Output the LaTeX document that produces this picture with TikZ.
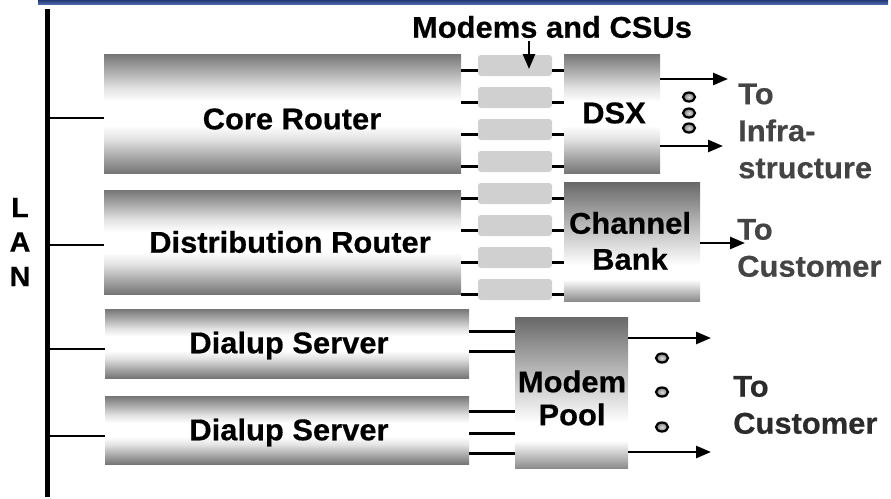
\documentclass[tikz,border=0pt]{standalone}
\usepackage{fontspec}
\setmainfont{Liberation Sans}[FakeStretch=1.03, BoldFeatures={FakeBold=0.5}]
\usetikzlibrary{arrows.meta,calc,shapes.geometric}

\definecolor{bartop}{RGB}{34,56,118}
\definecolor{barbot}{RGB}{78,108,172}
\definecolor{modemgray}{RGB}{208,208,208}
\definecolor{shA}{RGB}{118,118,118}
\definecolor{shB}{RGB}{170,170,170}
\definecolor{shC}{RGB}{225,225,225}
\definecolor{plA}{RGB}{104,104,104}
\definecolor{plB}{RGB}{185,185,185}
\definecolor{plC}{RGB}{140,140,140}
\definecolor{dotin}{RGB}{220,220,220}
\definecolor{dotout}{RGB}{120,120,120}
\definecolor{taggray}{RGB}{68,68,68}
\definecolor{tagdark}{RGB}{43,43,43}

% dark edges, white band in the middle
\pgfdeclareverticalshading{unitshade}{100bp}{%
  color(0bp)=(shA); color(25bp)=(shA); color(32bp)=(shB); color(39bp)=(shC);
  color(45bp)=(white); color(55bp)=(white); color(61bp)=(shC);
  color(68bp)=(shB); color(75bp)=(shA); color(100bp)=(shA)}
% white band sits low
\pgfdeclareverticalshading{lowshade}{100bp}{%
  color(0bp)=(plC); color(25bp)=(plC); color(34bp)=(white); color(40bp)=(white);
  color(57bp)=(plB); color(75bp)=(plA); color(100bp)=(plA)}

\tikzset{
  unit/.style={shade, shading=unitshade, inner sep=0pt, outer sep=0pt, anchor=north west},
  lowunit/.style={shade, shading=lowshade, inner sep=0pt, outer sep=0pt, anchor=north west},
  modem/.style={fill=modemgray, rounded corners=3pt, inner sep=0pt, outer sep=0pt,
    minimum width=74pt, minimum height=21pt, anchor=north west},
  lbl/.style={font=\bfseries\fontsize{30}{36}\selectfont, align=center, inner sep=0pt},
  tag/.style={font=\bfseries\fontsize{30}{37}\selectfont, align=left, inner sep=0pt, anchor=west},
  wire/.style={line width=3pt},
  tap/.style={line width=2.6pt},
  feed/.style={line width=2.6pt, -{Triangle[length=15pt,width=12pt]}},
  dotmark/.style={ellipse, draw=black, line width=2.2pt, inner color=dotin, outer color=dotout,
    inner sep=0pt, minimum width=12pt, minimum height=9pt},
}

\begin{document}
\begin{tikzpicture}[x=1pt,y=-1pt]
\useasboundingbox (0,0) rectangle (891,498);

% title bar
\shade[top color=bartop, bottom color=barbot] (38,0) rectangle (888,4.5);

% LAN backbone
\coordinate (lantop) at (47,9);
\coordinate (lanbot) at (47,497);
\draw[line width=5pt] (lantop) -- (lanbot);
\node[font=\bfseries\fontsize{28}{34.5}\selectfont, align=center, inner sep=0pt] (lan) at (20,242) {L\\A\\N};

% equipment
\node[unit, minimum width=357pt, minimum height=119pt] (core) at (104,54) {};
\node[unit, minimum width=357pt, minimum height=104pt] (dist) at (104,190) {};
\node[unit, minimum width=364pt, minimum height=69pt] (dial1) at (105,309) {};
\node[unit, minimum width=364pt, minimum height=68pt] (dial2) at (105,396) {};
\node[unit, minimum width=96pt, minimum height=119pt] (dsx) at (564,54) {};
\node[lowunit, minimum width=136pt, minimum height=119pt] (cbank) at (564,182) {};
\node[lowunit, minimum width=113pt, minimum height=151pt] (pool) at (515,317) {};

\node[lbl] (coretxt) at (292,119) {Core Router};
\node[lbl] (disttxt) at (290,242) {Distribution Router};
\node[lbl] (dial1txt) at (289,345.5) {Dialup Server};
\node[lbl] (dial2txt) at (289,432.5) {Dialup Server};
\node[lbl] (dsxtxt) at (614,113) {DSX};
\node[lbl] (cbanktxt) at (630,241) {Channel\\Bank};
\node[lbl, font=\bfseries\fontsize{30}{33}\selectfont] (pooltxt) at (572,398) {Modem\\Pool};

% LAN taps
\draw[tap] (lantop |- 0,118) -- (core.west |- 0,118);
\draw[tap] (lantop |- 0,245) -- (dist.west |- 0,245);
\draw[tap] (lantop |- 0,349) -- (dial1.west |- 0,349);
\draw[tap] (lantop |- 0,436) -- (dial2.west |- 0,436);

% modems and CSUs
\foreach \i in {0,...,7} {
  \node[modem] (m\i) at (478,55+32*\i) {};
}
\foreach \i in {0,...,3} {
  \draw[wire] ($(m\i.west)+(0,4.5)$) coordinate (a) -- (a -| core.east);
  \draw[wire] ($(m\i.east)+(0,4.5)$) coordinate (b) -- (b -| dsx.west);
}
\foreach \i in {4,...,7} {
  \draw[wire] ($(m\i.west)+(0,4.5)$) coordinate (a) -- (a -| dist.east);
  \draw[wire] ($(m\i.east)+(0,4.5)$) coordinate (b) -- (b -| cbank.west);
}
\node[font=\bfseries\fontsize{30}{36}\selectfont, inner sep=0pt] (csutxt) at (552,27) {Modems and CSUs};
\coordinate (csutip) at (529,69);
\draw[feed] (csutip |- 0,41) -- (csutip);

% dialup servers into the modem pool
\foreach \y in {331,351} \draw[wire] (dial1.east |- 0,\y) -- (pool.west |- 0,\y);
\foreach \y in {411,433,453} \draw[wire] (dial2.east |- 0,\y) -- (pool.west |- 0,\y);

% outgoing lines
\coordinate (dsxa) at (728,79);
\coordinate (dsxb) at (723,146);
\draw[feed] (dsx.east |- dsxa) -- (dsxa);
\draw[feed] (dsx.east |- dsxb) -- (dsxb);
\node[dotmark] (d1) at (689,97) {};
\node[dotmark] (d2) at (689,113) {};
\node[dotmark] (d3) at (689,128) {};

\coordinate (cba) at (745,243);
\draw[feed] (cbank.east |- cba) -- (cba);

\coordinate (poola) at (711,338);
\coordinate (poolb) at (711,452);
\draw[feed] (pool.east |- poola) -- (poola);
\draw[feed] (pool.east |- poolb) -- (poolb);
\node[dotmark] (p1) at (662,358) {};
\node[dotmark] (p2) at (662,392) {};
\node[dotmark] (p3) at (662,427) {};

% destinations
\node[tag, text=taggray] (infra) at (738,131) {To\\Infra-\\structure};
\node[tag, text=taggray] (cust1) at (737,248) {To\\Customer};
\node[tag, text=tagdark] (cust2) at (733,405) {To\\Customer};
\end{tikzpicture}
\end{document}
